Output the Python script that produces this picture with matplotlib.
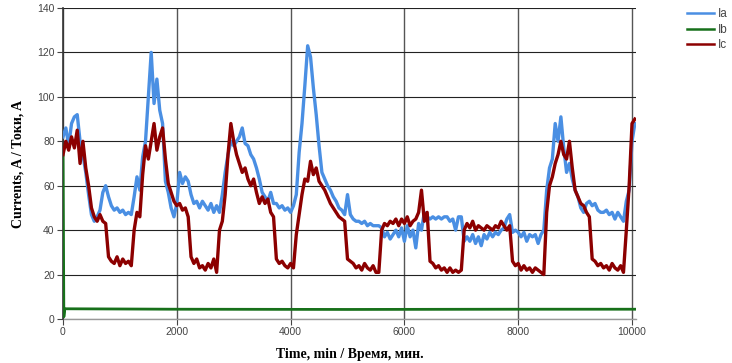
import numpy as np
import matplotlib
matplotlib.use("Agg")
from matplotlib import pyplot as plt

# time axis, minutes (one reading every 50 min)
time_min = np.arange(0, 10051, 50)

ia = [82, 86, 78, 88, 91, 92, 80, 74, 66, 56, 47, 44, 46, 49, 57, 60, 55, 51, 49, 50,
      48, 49, 47, 48, 47, 55, 64, 58, 73, 80, 100, 120, 97, 108, 94, 88, 62, 57, 50, 46,
      52, 66, 61, 64, 62, 56, 52, 53, 50, 53, 51, 49, 52, 48, 51, 48, 56, 66, 74, 80,
      78, 80, 82, 86, 79, 78, 74, 72, 68, 63, 57, 55, 53, 57, 52, 52, 50, 51, 49, 50,
      48, 51, 56, 75, 88, 105, 123, 118, 104, 92, 78, 66, 63, 60, 58, 55, 53, 50, 49, 47,
      56, 47, 45, 44, 44, 43, 44, 42, 43, 42, 42, 42, 41, 37, 39, 36, 38, 40, 37, 41,
      35, 42, 37, 40, 32, 43, 40, 48, 46, 45, 46, 45, 46, 45, 46, 46, 44, 45, 40, 46,
      46, 35, 37, 35, 38, 34, 37, 33, 38, 36, 39, 37, 39, 38, 40, 41, 45, 47, 39, 40,
      39, 37, 39, 35, 38, 37, 38, 34, 38, 40, 58, 68, 72, 88, 80, 91, 77, 66, 70, 63,
      58, 55, 50, 48, 52, 53, 51, 52, 49, 48, 48, 49, 47, 48, 45, 48, 46, 44, 53, 58,
      80, 88]

ic = [74, 80, 76, 82, 77, 85, 70, 80, 68, 60, 50, 46, 44, 47, 44, 43, 28, 26, 25, 28,
      24, 27, 25, 26, 24, 40, 48, 46, 65, 78, 72, 80, 88, 76, 82, 86, 72, 61, 57, 53,
      51, 52, 49, 50, 46, 28, 25, 27, 23, 24, 22, 25, 23, 27, 21, 40, 44, 56, 74, 88,
      80, 74, 70, 66, 68, 63, 60, 63, 57, 52, 55, 52, 54, 48, 46, 27, 25, 26, 24, 23,
      25, 23, 38, 47, 56, 63, 62, 71, 65, 68, 62, 60, 58, 55, 52, 50, 48, 46, 45, 44,
      27, 26, 25, 23, 24, 22, 25, 23, 22, 24, 21, 21, 40, 43, 42, 44, 43, 45, 42, 45,
      43, 46, 42, 44, 45, 48, 58, 44, 48, 26, 25, 23, 24, 22, 23, 21, 23, 21, 22, 21,
      22, 40, 43, 41, 44, 40, 42, 41, 40, 42, 41, 40, 42, 41, 44, 42, 40, 42, 26, 24,
      25, 22, 24, 22, 23, 21, 23, 22, 21, 20, 48, 60, 64, 70, 74, 80, 74, 72, 80, 68,
      58, 55, 52, 51, 48, 46, 27, 26, 24, 25, 23, 24, 22, 25, 23, 22, 24, 21, 40, 60,
      88, 90]

ib_time = [0, 15, 30, 2000, 5000, 8000, 10050]
ib = [78, 1, 4.6, 4.4, 4.3, 4.4, 4.4]

x_ticks = [0, 2000, 4000, 6000, 8000, 10000]
y_ticks = [0, 20, 40, 60, 80, 100, 120, 140]

fig = plt.figure(figsize=(7.32, 3.63), dpi=100)
ax = fig.add_axes([63 / 732, 1 - 319 / 363, (636 - 63) / 732, (319 - 8) / 363])

ax.plot(time_min, ia, color="#4a8fe3", lw=2.4, label="Ia", zorder=3)
ax.plot(ib_time, ib, color="#17701a", lw=2.0, label="Ib", zorder=3)
ax.plot(time_min, ic, color="#8c0000", lw=2.4, label="Ic", zorder=4)

ax.set_xlim(0, 10070)
ax.set_ylim(0, 140)
ax.set_xticks(x_ticks)
ax.set_yticks(y_ticks)
for s in ["top", "right", "bottom"]:
    ax.spines[s].set_visible(False)
ax.spines["left"].set_color("#333333")
ax.spines["left"].set_linewidth(1.2)
ax.grid(axis="y", color="#222222", lw=0.8, zorder=1)
ax.grid(axis="x", color="#555555", lw=1.0, zorder=1)
ax.axhline(0, color="#999999", lw=1.0, zorder=2, clip_on=False)

ax.tick_params(labelsize=7.5, colors="#444444", length=4, width=0.8, pad=2)
for lbl in ax.get_xticklabels() + ax.get_yticklabels():
    lbl.set_fontfamily("Liberation Sans")

ax.set_xlabel("Time, min / Время, мин.", family="Liberation Serif", fontweight="bold",
              fontsize=10, labelpad=8)
ax.set_ylabel("Currents, A / Токи, A", family="Liberation Serif", fontweight="bold",
              fontsize=10, labelpad=9)

leg = fig.legend(loc="upper left", bbox_to_anchor=(682 / 732, 0.99), frameon=False,
                 prop={"family": "Liberation Sans", "size": 8.5}, handlelength=2.3,
                 handletextpad=0.3, labelspacing=0.3, borderaxespad=0, labelcolor="#444444")
for h in leg.legend_handles:
    h.set_linewidth(1.8)

fig.savefig("out.png", dpi=100)
